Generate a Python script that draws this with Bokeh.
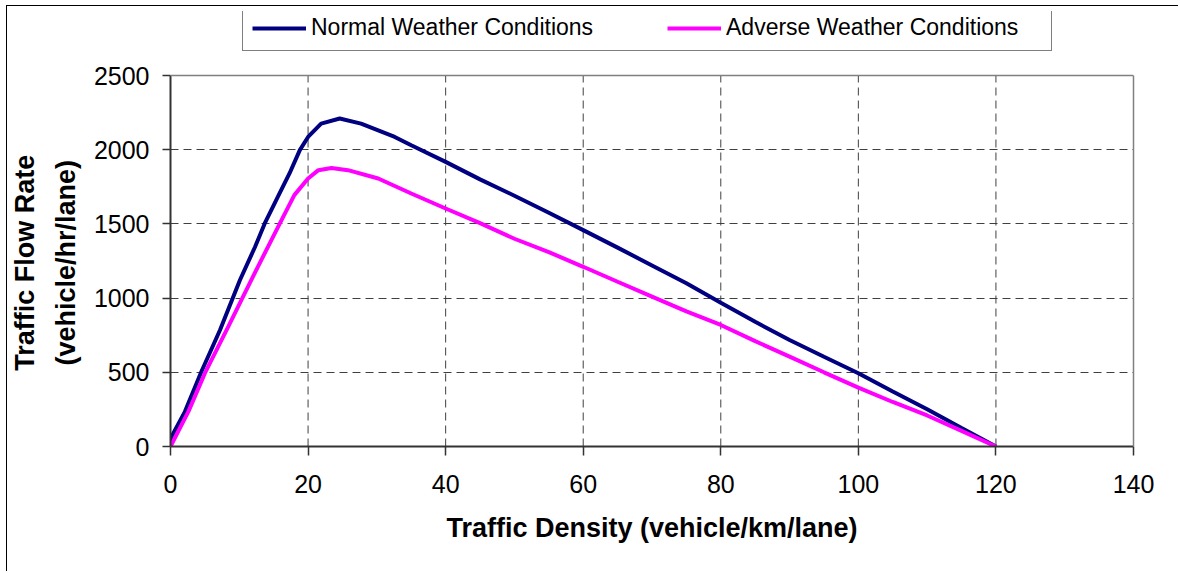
from bokeh.plotting import figure
from bokeh.models import (Range1d, FixedTicker, Legend, LegendItem, ColumnDataSource,
                          LinearAxis, Span)
from bokeh.embed import file_html
from bokeh.resources import INLINE

# Traffic density (vehicle/km/lane) and flow rate (vehicle/hr/lane)
normal_density = [0, 0.15, 2.1, 4.5, 7.2, 10.1, 12.3, 13.7, 15.6, 17.3, 18.8, 20, 21.9, 24.6,
                  27.7, 32.6, 35, 40, 45, 50, 55, 60, 65, 70, 75, 80, 85, 90, 95,
                  100, 105, 110, 115, 120]
normal_flow = [0, 67, 235, 505, 785, 1122, 1346, 1503, 1682, 1840, 1997, 2086, 2176, 2210,
               2176, 2086, 2030, 1918, 1800, 1690, 1575, 1458, 1340, 1220, 1100, 968, 840,
               718, 605, 494, 370, 251, 125, 0]

adverse_density = [0, 2.6, 5.0, 8.4, 10.3, 12.7, 15.9, 18.0, 20, 21.5, 23.4, 25.8,
                   30.2, 35, 40, 45, 50, 55, 60, 65, 70, 75, 80, 85, 90, 95, 100,
                   105, 110, 115, 120]
adverse_flow = [0, 235, 494, 808, 987, 1211, 1503, 1694, 1806, 1862, 1877, 1862,
                1806, 1705, 1604, 1505, 1400, 1310, 1211, 1110, 1010, 910, 819, 710, 606,
                500, 397, 300, 209, 105, 0]

x_ticks = [0, 20, 40, 60, 80, 100, 120, 140]
y_ticks = [0, 500, 1000, 1500, 2000, 2500]

series_names = ["Normal Weather Conditions", "Adverse Weather Conditions"]
series_colors = ["#000080", "#FF00FF"]

FONT = "Liberation Sans"
Y_MAX = y_ticks[-1]
X_MAX = x_ticks[-1]
# frame extends above the 2500 line so the legend (drawn inside the frame) can sit on top
FRAME_H, PLOT_H = 435, 371

p = figure(width=1172, height=566, output_backend="svg", toolbar_location=None,
           x_range=Range1d(0, X_MAX), y_range=Range1d(0, Y_MAX * FRAME_H / PLOT_H),
           min_border_left=162, min_border_right=46, min_border_top=5, min_border_bottom=126)
p.styles = {"margin-left": "6px", "margin-top": "5px",
            "border-top": "1px solid black", "border-left": "1px solid black"}

p.background_fill_color = "white"
p.border_fill_color = "white"
p.outline_line_color = None

# vertical dashed grid lines, limited to the plot area (0..2500)
p.segment(x0=x_ticks[1:-1], y0=[0] * 6, x1=x_ticks[1:-1], y1=[Y_MAX] * 6,
          line_color="#404040", line_width=1, line_dash="8 5")

# top border of the plot area
p.add_layout(Span(location=Y_MAX, dimension="width", line_color="#808080", line_width=1.5))

src_n = ColumnDataSource(dict(x=normal_density, y=normal_flow))
src_a = ColumnDataSource(dict(x=adverse_density, y=adverse_flow))
r1 = p.line("x", "y", source=src_n, line_color=series_colors[0], line_width=4)
r2 = p.line("x", "y", source=src_a, line_color=series_colors[1], line_width=4)

# axes
p.xaxis.ticker = FixedTicker(ticks=x_ticks)
p.yaxis.ticker = FixedTicker(ticks=y_ticks)
p.yaxis.bounds = (0, Y_MAX)
for ax in (p.xaxis[0], p.yaxis[0]):
    ax.axis_line_color = "#333333"
    ax.axis_line_width = 2
    ax.major_tick_line_color = "#333333"
    ax.major_tick_line_width = 1.5
    ax.major_tick_in = 0
    ax.minor_tick_line_color = None
    ax.major_label_text_font = FONT
    ax.major_label_text_font_size = "25px"
    ax.major_label_text_color = "black"
    ax.axis_label_text_font = FONT
    ax.axis_label_text_font_style = "bold"
    ax.axis_label_text_font_size = "27px"
    ax.axis_label_text_color = "black"

p.xaxis.axis_label = "Traffic Density (vehicle/km/lane)"
p.xaxis.major_tick_out = 9
p.xaxis.major_label_standoff = 19
p.xaxis.axis_label_standoff = 17
pad = "\u00a0" * 9
p.yaxis.axis_label = "Traffic Flow Rate" + pad + "\n(vehicle/hr/lane)" + pad
p.yaxis.axis_label_text_line_height = 1.35
p.yaxis.major_tick_out = 8
p.yaxis.major_label_standoff = 13
p.yaxis.axis_label_standoff = 10

# right border of the plot area
right_axis = LinearAxis(bounds=(0, Y_MAX), ticker=FixedTicker(ticks=[]),
                        axis_line_color="#808080", axis_line_width=1.5,
                        major_tick_line_color=None, minor_tick_line_color=None,
                        major_label_text_font_size="0px")
p.add_layout(right_axis, "right")

# horizontal dashed grid lines
p.xgrid.grid_line_color = None
p.ygrid.ticker = FixedTicker(ticks=y_ticks[1:-1])
p.ygrid.grid_line_color = "#404040"
p.ygrid.grid_line_width = 1
p.ygrid.grid_line_dash = "8 5"

legend = Legend(items=[LegendItem(label=series_names[0], renderers=[r1]),
                       LegendItem(label=series_names[1], renderers=[r2])],
                orientation="horizontal", location=(72, 395), padding=9, spacing=40,
                glyph_width=54, glyph_height=20, label_width=316, label_height=20,
                label_standoff=5, margin=0,
                border_line_color="black", border_line_width=1,
                background_fill_color="white", background_fill_alpha=1,
                label_text_font=FONT, label_text_font_size="23px", label_text_color="black")
p.add_layout(legend)

open("out.html", "w").write(file_html(p, INLINE))
